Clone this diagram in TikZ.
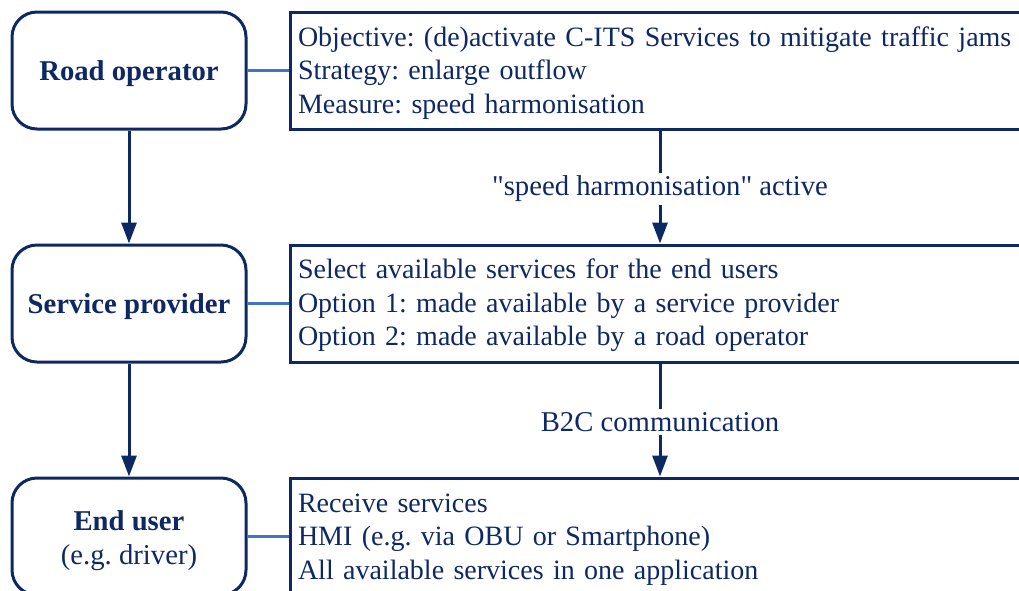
\documentclass[tikz,border=0pt]{standalone}
\usepackage{fontspec}
\setmainfont{Liberation Serif}[Ligatures=TeXOff]
\usetikzlibrary{arrows.meta}
\definecolor{navy}{RGB}{14,40,100}
\definecolor{linkblue}{RGB}{68,114,196}
\newcommand{\bigtext}{\fontsize{28.7}{33.5}\selectfont}
\newcommand{\boxtext}{\fontsize{28}{33.5}\selectfont}
\frenchspacing
\tikzset{
  actor/.style={draw=navy, line width=3pt, rounded corners=25pt, minimum width=234pt, minimum height=117pt, align=center, text=navy, text height=26pt, font=\bigtext\bfseries},
  info/.style={draw=navy, line width=3pt, minimum width=760pt, minimum height=117pt, text width=744pt, inner sep=8pt, align=left, text=navy, text height=24pt, font=\boxtext},
  link/.style={draw=linkblue, line width=3pt},
  flow/.style={draw=navy, line width=3pt, -{Triangle[length=21pt,width=15pt]}},
  tag/.style={fill=white, text=navy, font=\bigtext, yshift=-2pt}
}
\begin{document}
\begin{tikzpicture}[x=1pt,y=-1pt]
  \useasboundingbox (0,0) rectangle (1019,590);
  \clip (0,0) rectangle (1019,590);
  \node[actor] (ro) at (129,70.5) {Road operator};
  \node[actor] (sp) at (129,303.5) {Service provider};
  \node[actor, text height=62pt] (eu) at (129,536.5) {End user\\{\mdseries (e.g. driver)}};
  \node[info] (obj) at (670,70.5) {Objective: (de)activate C-ITS Services to mitigate traffic jams\\Strategy: enlarge outflow\\Measure: speed harmonisation};
  \node[info] (sel) at (670,303.5) {Select available services for the end users\\Option 1: made available by a service provider\\Option 2: made available by a road operator};
  \node[info] (rcv) at (670,536.5) {Receive services\\HMI (e.g. via OBU or Smartphone)\\All available services in one application};
  \draw[link] (ro) -- (obj);
  \draw[link] (sp) -- (sel);
  \draw[link] (eu) -- (rcv);
  \draw[flow] (ro) -- (sp);
  \draw[flow] (sp) -- (eu);
  \draw[flow] ([xshift=-10pt]obj.south) -- ([xshift=-10pt]sel.north) node[midway,tag] {"speed harmonisation" active};
  \draw[flow] ([xshift=-10pt]sel.south) -- ([xshift=-10pt]rcv.north) node[midway,tag] {B2C communication};
\end{tikzpicture}
\end{document}
